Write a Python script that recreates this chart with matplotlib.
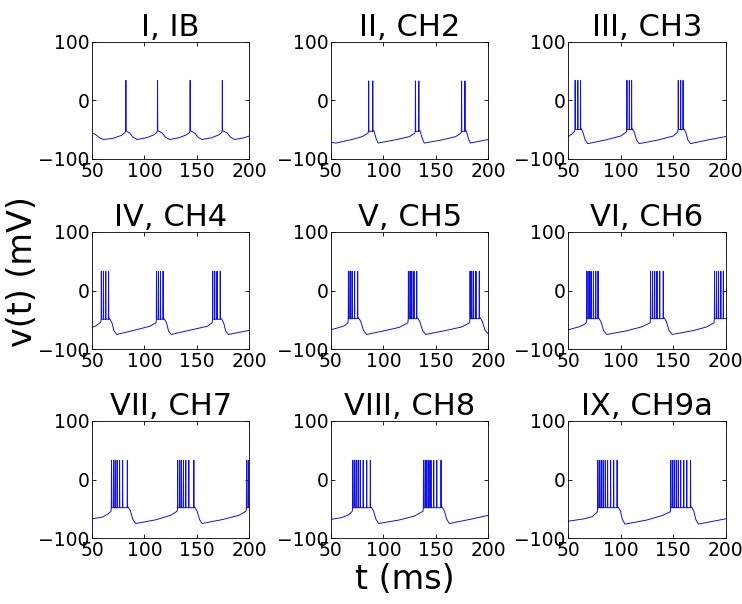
import matplotlib
matplotlib.use("Agg")
import matplotlib.pyplot as plt

# panel titles (row by row)
titles = ["I, IB", "II, CH2", "III, CH3",
          "IV, CH4", "V, CH5", "VI, CH6",
          "VII, CH7", "VIII, CH8", "IX, CH9a"]

# spike times (ms)
spikes = [
    [82.3, 112.5, 143.6, 174.3],
    [86.0, 89.9, 130.6, 133.8, 174.6, 177.8],
    [56.5, 59.0, 61.6, 105.8, 108.1, 110.3, 154.8, 157.1, 159.4],
    [58.9, 60.9, 63.1, 65.8, 111.5, 113.3, 115.3, 117.8, 165.1, 167.0, 169.2, 172.3],
    [66.7, 68.3, 70.2, 72.6, 75.5, 123.9, 125.5, 127.1, 129.2, 131.8,
     182.7, 184.3, 186.0, 188.3, 191.5],
    [67.7, 69.7, 71.6, 73.9, 76.1, 78.3, 128.4, 130.3, 132.3, 134.5, 137.1, 140.5,
     189.4, 191.3, 193.2, 195.4, 197.8],
    [68.6, 70.5, 72.1, 74.0, 76.3, 79.2, 83.7, 131.7, 133.7, 135.3, 137.2, 139.4,
     142.3, 147.1, 197.4, 199.0],
    [70.9, 72.5, 74.1, 76.0, 78.0, 80.8, 84.1, 87.6, 138.3, 139.9, 141.5, 143.5,
     145.4, 148.0, 150.9, 155.0],
    [78.1, 79.7, 81.3, 83.2, 85.2, 87.4, 90.3, 93.2, 96.5, 147.7, 149.4, 151.0,
     152.9, 154.8, 157.1, 160.0, 162.9, 166.5],
]

# spike peak and inter-spike trough (mV)
spike_peak = [34, 33, 34, 33, 33, 33, 33, 33, 33]
spike_low = [-52, -53, -50, -49, -48, -48, -48, -48, -48]

# subthreshold trace waypoints (t ms, v mV)
slow = [
    [(50, -56), (53, -58), (57, -64), (61, -67), (70, -65), (78, -60), (81.5, -55),
     (84, -54), (86, -56), (89, -63), (93, -67), (102, -64), (109, -59), (111.8, -55),
     (115, -54), (117, -56), (120, -63), (124, -67), (133, -64), (140, -59), (143, -55),
     (146, -54), (148, -56), (151, -63), (155, -67), (164, -64), (171, -59), (173.6, -55),
     (177, -54), (179, -56), (182, -63), (186, -67), (195, -64), (200, -61)],
    [(50, -72), (55, -73), (70, -67), (80, -62), (85.4, -56), (91, -52), (93, -65),
     (95, -73), (110, -68), (125, -62), (130, -56), (135, -52), (137, -65), (139, -73),
     (155, -68), (169, -62), (174, -56), (179, -52), (181, -65), (183, -73), (200, -67)],
    [(50, -62), (53, -58), (56, -53), (62.5, -49), (64, -55), (66, -68), (68.5, -74),
     (85, -68), (100, -61), (105.3, -54), (111.3, -49), (113, -55), (115, -68),
     (117.5, -74), (135, -68), (150, -61), (154.3, -54), (160.3, -49), (162, -55),
     (164, -68), (166.5, -74), (185, -67), (200, -62)],
    [(50, -63), (54, -60), (58.4, -54), (66.8, -48), (69, -55), (71, -69), (73.5, -75),
     (90, -68), (105, -61), (111, -55), (118.8, -48), (121, -55), (123, -69),
     (125.5, -75), (145, -67), (160, -61), (164.6, -55), (173.3, -48), (175.5, -55),
     (177.5, -69), (180, -75), (200, -68)],
    [(50, -67), (58, -63), (63, -60), (66.2, -55), (76.5, -47), (78.5, -53), (81, -68),
     (84, -75), (100, -69), (115, -63), (123.4, -55), (132.8, -47), (134.8, -53),
     (137.3, -68), (140.3, -75), (160, -68), (175, -62), (182.2, -55), (192.5, -47),
     (194.5, -53), (197, -68), (200, -74)],
    [(50, -67), (60, -62), (64, -59), (67.2, -55), (79, -47), (81, -53), (83.5, -68),
     (86.5, -75), (105, -69), (120, -62), (127.9, -55), (141.5, -47), (143.5, -53),
     (146, -68), (149, -75), (170, -68), (182, -62), (188.9, -55), (200, -48)],
    [(50, -67), (60, -64), (65, -59), (68.1, -54), (84.5, -47), (86.5, -53), (89, -68),
     (91.5, -75), (110, -69), (125, -61), (131.2, -54), (148, -47), (150, -53),
     (152.5, -68), (155, -75), (175, -68), (190, -61), (196.9, -54), (200, -48)],
    [(50, -68), (60, -65), (67, -60), (70.4, -54), (88.5, -47), (90.5, -53), (93, -68),
     (95.5, -75), (115, -69), (130, -62), (137.8, -54), (156, -47), (158, -53),
     (160.5, -68), (163, -75), (185, -67), (200, -61)],
    [(50, -71), (65, -67), (73, -63), (77.6, -55), (97.5, -47), (99.5, -53),
     (101.5, -68), (104, -76), (125, -69), (140, -61), (147.2, -55), (167.5, -47),
     (169.5, -53), (171.5, -68), (174, -76), (200, -67)],
]


def trace(k):
    pts = list(slow[k])
    for ts in spikes[k]:
        pts.append((ts - 0.2, spike_low[k]))
        pts.append((ts, spike_peak[k]))
        pts.append((ts + 0.2, spike_low[k]))
    pts.sort()
    t = [p[0] for p in pts]
    v = [p[1] for p in pts]
    return t, v


fig = plt.figure(figsize=(7.42, 6.04), dpi=100)
lefts = [0.124, 0.446, 0.766]
bottoms = [0.737, 0.422, 0.109]
w, h = 0.212, 0.194

for k in range(9):
    r, c = divmod(k, 3)
    ax = fig.add_axes([lefts[c], bottoms[r], w, h])
    t, v = trace(k)
    ax.plot(t, v, color='#1010e0', lw=0.7)
    ax.set_xlim(50, 200)
    ax.set_ylim(-100, 100)
    ax.set_xticks([50, 100, 150, 200])
    ax.set_yticks([-100, 0, 100])
    ax.tick_params(direction='in', length=3, width=0.6, labelsize=13.5,
                   top=True, right=True, pad=2)
    for s in ax.spines.values():
        s.set_linewidth(0.6)
    ax.set_title(titles[k], fontsize=22, pad=4)

fig.text(0.545, 0.04, "t (ms)", fontsize=24, ha='center', va='center')
fig.text(0.03, 0.55, "v(t) (mV)", fontsize=24, ha='center', va='center',
         rotation=90)

fig.savefig("out.png", dpi=100)
